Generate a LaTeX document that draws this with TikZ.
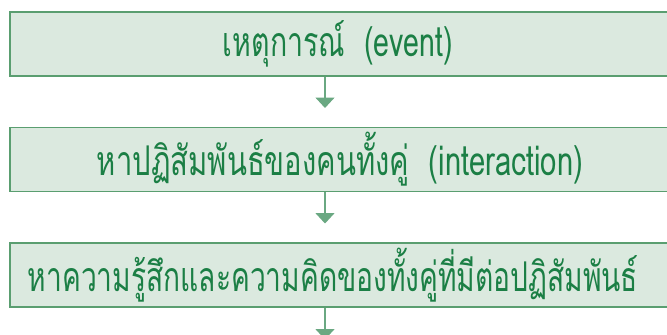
\documentclass[tikz,border=0pt]{standalone}
\usepackage{fontspec}
\usepackage{graphicx}
\usetikzlibrary{arrows.meta}
\newfontfamily\thaifont[Script=Thai]{Loma}
\definecolor{boxfill}{HTML}{DBE9DF}
\definecolor{boxline}{HTML}{5A9E70}
\definecolor{arrowcol}{HTML}{6AA882}
\definecolor{txtcol}{HTML}{1B7F45}
\tikzset{
  stepbox/.style={draw=boxline, fill=boxfill, line width=1.8bp, rectangle,
    minimum width=670bp, minimum height=64bp, inner sep=0pt,
    text=txtcol, font=\thaifont\fontsize{41bp}{48bp}\selectfont},
  flowarrow/.style={draw=arrowcol, line width=1.6bp,
    -{Triangle[width=19bp,length=10.5bp]}}
}
\begin{document}
\begin{tikzpicture}[x=1bp,y=-1bp]
\clip (0,0) rectangle (667,334);
\fill[white] (0,0) rectangle (667,334);
\node[stepbox] (b1) at (345,44) {\resizebox{230bp}{\height}{เหตุการณ์\ \ (event)}\hspace*{14bp}};
\node[stepbox] (b2) at (345,159.5) {\resizebox{486bp}{\height}{หาปฏิสัมพันธ์ของคนทั้งคู่\ \ (interaction)}\hspace*{10bp}};
\node[stepbox] (b3) at (345,275) {\resizebox{610bp}{\height}{หาความรู้สึกและความคิดของทั้งคู่ที่มีต่อปฏิสัมพันธ์}\hspace*{24bp}};
\coordinate (a1) at (325,108);
\coordinate (a2) at (325,223.5);
\coordinate (a3) at (325,339.5);
\draw[flowarrow] (b1.south -| a1) -- (a1);
\draw[flowarrow] (b2.south -| a2) -- (a2);
\draw[flowarrow] (b3.south -| a3) -- (a3);
\end{tikzpicture}
\end{document}
